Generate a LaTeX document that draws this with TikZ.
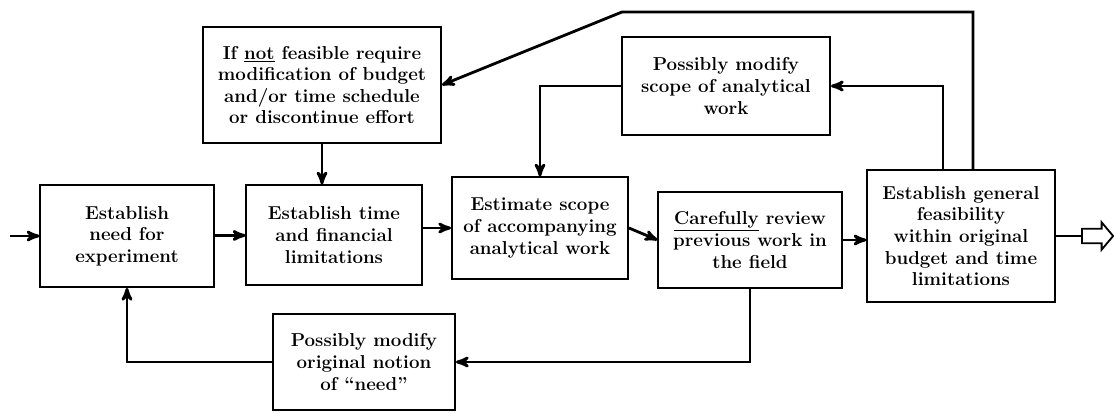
\documentclass[tikz,border=0pt]{standalone}
\usepackage{tikz}
\usetikzlibrary{arrows, shapes.arrows}
\tikzset{
>=stealth', % small filled arrow heads
block/.style={draw, line width=1.3pt, align=center, inner sep=2pt,
  font=\bfseries\fontsize{13.3}{15.4}\selectfont}, % every box of the chart
flow/.style={->, line width=2pt}, % connectors between the boxes
}

\begin{document}
\begin{tikzpicture}[x=0.025cm, y=-0.025cm]
  \useasboundingbox (0,0) rectangle (1114,413);
  % main row
  \node[block, minimum width=4.33cm, minimum height=2.55cm] (need) at (127,236)
    {Establish\\need for\\experiment};
  \node[block, minimum width=4.38cm, minimum height=2.48cm] (limits) at (334,235)
    {Establish time\\and financial\\limitations};
  \node[block, minimum width=4.4cm, minimum height=2.53cm] (scope) at (540,228)
    {Estimate scope\\of accompanying\\analytical work};
  \node[block, minimum width=4.58cm, minimum height=2.38cm] (review) at (750,240)
    {\underline{Carefully} review\\previous work in\\the field};
  \node[block, minimum width=4.68cm, minimum height=3.3cm] (feasible) at (961,236)
    {Establish general\\feasibility\\within original\\budget and time\\limitations};
  % feedback boxes
  \node[block, minimum width=5.95cm, minimum height=2.88cm] (notfeas) at (322,85)
    {If \underline{not} feasible require\\modification of budget\\and/or time schedule\\or discontinue effort};
  \node[block, minimum width=5.2cm, minimum height=2.43cm] (modscope) at (726,86)
    {Possibly modify\\scope of analytical\\work};
  \node[block, minimum width=4.55cm, minimum height=2.38cm] (modneed) at (364,362)
    {Possibly modify\\original notion\\of ``need''};
  \coordinate (in) at (10,236);
  \coordinate (top) at (622,12);
  \coordinate (out) at (1081,236);

  \draw[flow] (in) -- (need.west);
  \draw[flow] (need) -- (limits);
  \draw[flow] (scope.west -| limits.east) -- (scope.west);
  \draw[flow] (scope.east) -- (review.west);
  \draw[flow] (review.east) -- (review.east -| feasible.west);
  \draw[line width=2pt] (feasible.east) -- (out);
  \node[single arrow, draw, line width=1.3pt, anchor=tail, inner sep=0.16cm,
    minimum height=0.78cm, single arrow head extend=0.16cm,
    single arrow tip angle=100] (exit) at (out) {};
  % loops back
  \draw[flow] ([xshift=-0.45cm]feasible.north) |- (modscope.east);
  \draw[flow] ([xshift=0.3cm]feasible.north) |- (top) -- (notfeas.east);
  \draw[flow] (modscope.west) -| (scope.north);
  \draw[flow] (notfeas.south) -- (notfeas.south |- limits.north);
  \draw[flow] (review.south) |- (modneed.east);
  \draw[flow] (modneed.west) -| (need.south);
\end{tikzpicture}
\end{document}
